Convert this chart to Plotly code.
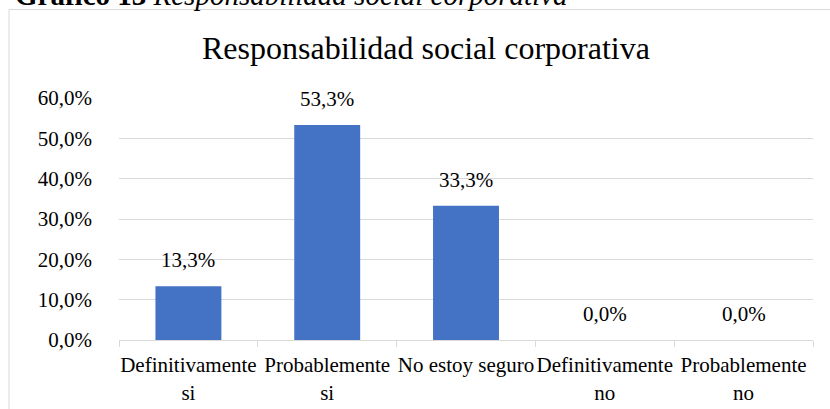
import plotly.graph_objects as go

categories = ["Definitivamente<br>si", "Probablemente<br>si", "No estoy seguro",
              "Definitivamente<br>no", "Probablemente<br>no"]
values = [0.133, 0.533, 0.333, 0.0, 0.0]
y_ticks = [0.0, 0.1, 0.2, 0.3, 0.4, 0.5, 0.6]

FONT = "Liberation Serif, Times New Roman, serif"
L, R, T, B = 119, 17, 98, 69
W, H = 830, 409
pw, ph = W - L - R, H - T - B

def px_x(p):
    return (p - L) / pw

def px_y(p):
    return (H - B - p) / ph

fig = go.Figure()
fig.add_trace(go.Bar(
    x=categories, y=values, width=0.475,
    marker=dict(color="#4472C4", line=dict(width=0)),
    hoverinfo="skip",
))

annotations = []
for c, v in zip(categories, values):
    annotations.append(dict(
        x=c, y=v, xref="x", yref="y", text=f"{v*100:.1f}%".replace(".", ","),
        showarrow=False, yanchor="bottom", yshift=12,
        font=dict(family=FONT, size=21, color="#000000"),
    ))

annotations.append(dict(
    x=px_x(426), y=px_y(48), xref="paper", yref="paper",
    text="Responsabilidad social corporativa", showarrow=False,
    xanchor="center", yanchor="middle",
    font=dict(family=FONT, size=32, color="#000000"),
))
annotations.append(dict(
    x=px_x(13), y=px_y(13), xref="paper", yref="paper",
    text="<b>Gráfico 13</b> <i>Responsabilidad social corporativa</i>",
    showarrow=False, xanchor="left", yanchor="bottom",
    font=dict(family=FONT, size=29, color="#000000"),
))

fig.update_layout(
    width=W, height=H,
    margin=dict(l=L, r=R, t=T, b=B, pad=0, autoexpand=False),
    paper_bgcolor="white", plot_bgcolor="white",
    separators=",.",
    showlegend=False,
    annotations=annotations,
    shapes=[dict(type="rect", xref="paper", yref="paper",
                 x0=px_x(9), x1=px_x(843), y0=px_y(420), y1=px_y(9.5),
                 line=dict(color="#d9d9d9", width=1), fillcolor="rgba(0,0,0,0)",
                 layer="below")],
    xaxis=dict(
        tickangle=0, tickson="boundaries", ticks="outside", ticklen=6,
        tickcolor="#d9d9d9", showline=True, linecolor="#d9d9d9", linewidth=1,
        showgrid=False, ticklabelstandoff=6, automargin=False,
        tickfont=dict(family=FONT, size=21, color="#000000"),
    ),
    yaxis=dict(
        range=[0, 0.6], tickvals=y_ticks, tickformat=".1%",
        showgrid=True, gridcolor="#d9d9d9", gridwidth=1,
        zeroline=False, showline=False, ticks="", ticklabelstandoff=26,
        automargin=False,
        tickfont=dict(family=FONT, size=21, color="#000000"),
    ),
    bargap=0.525,
)

fig.write_html("out.html")
